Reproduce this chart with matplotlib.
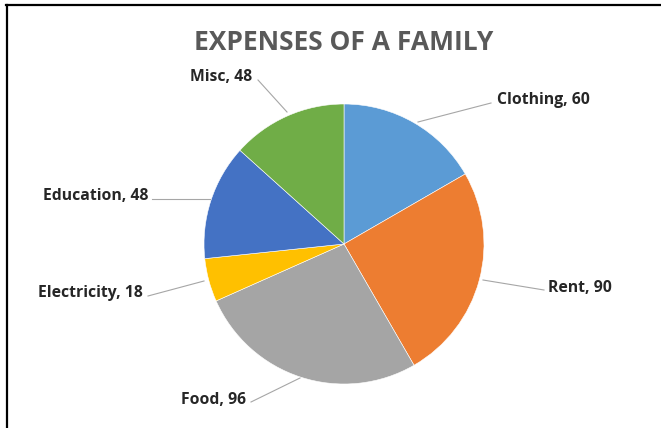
import matplotlib
matplotlib.use("Agg")
import matplotlib.pyplot as plt

categories = ["Clothing", "Rent", "Food", "Electricity", "Education", "Misc"]
values = [60, 90, 96, 18, 48, 48]
colors = ["#5B9BD5", "#ED7D31", "#A5A5A5", "#FFC000", "#4472C4", "#70AD47"]
title = "EXPENSES OF A FAMILY"

W, H = 661, 428
fig = plt.figure(figsize=(W / 100, H / 100), dpi=100)
ax = fig.add_axes([0, 0, 1, 1])

cx, cy, r = 344, H - 244, 140
wedges, _ = ax.pie(values, colors=colors, startangle=90, counterclock=False,
                   center=(cx, cy), radius=r, frame=True,
                   wedgeprops=dict(edgecolor="white", linewidth=0.4))
ax.set_xlim(0, W)
ax.set_ylim(0, H)
ax.set_aspect("equal")
ax.axis("off")

# label anchor (pixel, top origin), point on pie (pixel), line end (pixel), alignment
label_specs = {
    "Clothing": ((497, 100), (418, 122), (491, 103), "left"),
    "Rent": ((548, 288), (483, 280), (544, 290), "left"),
    "Food": ((246, 400), (300, 378), (251, 402), "right"),
    "Electricity": ((143, 293), (204, 281), (148, 296), "right"),
    "Education": ((148, 196), (210, 199), (152, 199), "right"),
    "Misc": ((252, 77), (287, 112), (258, 80), "right"),
}
for cat, val in zip(categories, values):
    (tx, ty), (px, py), (lx, ly), ha = label_specs[cat]
    ax.plot([px, lx], [H - py, H - ly], color="#A6A6A6", lw=0.8, zorder=1)
    ax.text(tx, H - ty, f"{cat}, {val}", ha=ha, va="center",
            fontsize=11.3, fontweight="bold", color="#262626", family="Open Sans")

ax.text(cx, H - 42, title, ha="center", va="center", fontsize=19,
        fontweight="bold", color="#595959", family="Open Sans")

# frame lines (top and left)
ax.plot([6, W], [H - 5, H - 5], color="black", lw=1.6, clip_on=False)
ax.plot([6.5, 6.5], [H - 5, 0], color="black", lw=1.6, clip_on=False)

fig.savefig("out.png", dpi=100)
